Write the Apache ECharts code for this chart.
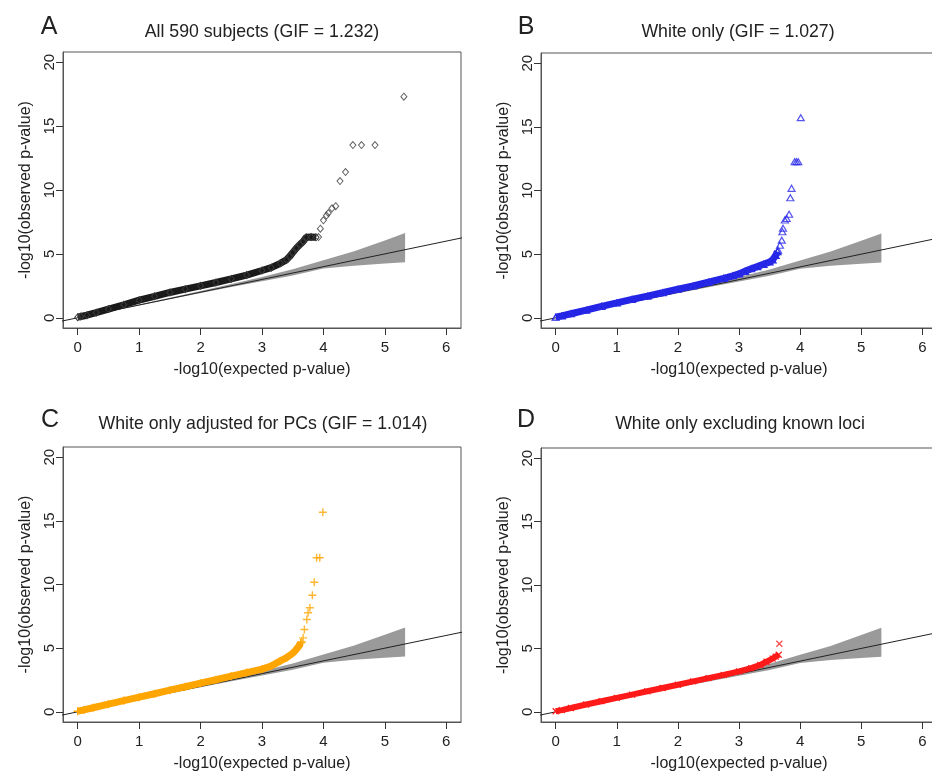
<!DOCTYPE html>
<html>
<head>
<meta charset="utf-8">
<script src="https://cdn.jsdelivr.net/npm/echarts@6/dist/echarts.min.js"></script>
<style>
html,body{margin:0;padding:0;background:#fff;}
#c{width:932px;height:776px;}
</style>
</head>
<body>
<div id="c"></div>
<script>
// ---------------- data ----------------
const X_TICKS = [0, 1, 2, 3, 4, 5, 6];
const Y_TICKS = [0, 5, 10, 15, 20];
const PANEL_LETTERS = ['A', 'B', 'C', 'D'];
const PANEL_TITLES = [
  'All 590 subjects (GIF = 1.232)',
  'White only (GIF = 1.027)',
  'White only adjusted for PCs (GIF = 1.014)',
  'White only excluding known loci'
];
const X_NAME = '-log10(expected p-value)';
const Y_NAME = '-log10(observed p-value)';

// 95% confidence band of the expected order statistics
const BAND_X    = [0, 1, 2, 2.5, 3.0, 3.5, 4.0, 4.5, 5.0, 5.33];
const BAND_LOW  = [0, 0.97, 1.93, 2.4, 2.85, 3.3, 3.85, 4.08, 4.25, 4.35];
const BAND_HIGH = [0, 1.03, 2.1, 2.65, 3.2, 3.8, 4.5, 5.2, 6.05, 6.63];

// identity line y = x (end points)
const REF_X = [-0.3, 6.3];

// Panel A: all 590 subjects
const A_DENSE_X = [0.0, 0.05, 0.15, 0.3, 0.5, 0.75, 1.0, 1.25, 1.5, 1.75, 2.0, 2.25, 2.5, 2.75, 3.0, 3.15, 3.3, 3.4, 3.45, 3.5, 3.56, 3.62, 3.67, 3.72, 3.8, 3.88];
const A_DENSE_Y = [0.05, 0.1, 0.2, 0.4, 0.68, 1.02, 1.38, 1.68, 1.98, 2.24, 2.5, 2.76, 3.04, 3.34, 3.7, 3.92, 4.26, 4.55, 4.8, 5.1, 5.45, 5.75, 5.97, 6.3, 6.32, 6.3];
const A_TAIL_X = [3.92, 3.95, 4.0, 4.05, 4.08, 4.14, 4.2, 4.27, 4.36, 4.48, 4.62, 4.84, 5.31];
const A_TAIL_Y = [6.32, 6.97, 7.63, 8.0, 8.2, 8.57, 8.73, 10.7, 11.4, 13.52, 13.52, 13.52, 17.3];

// Panel B: white only
const B_DENSE_X = [0.0, 0.1, 0.25, 0.5, 0.75, 1.0, 1.25, 1.5, 1.75, 2.0, 2.25, 2.5, 2.75, 2.9, 3.0, 3.1, 3.2, 3.3, 3.4, 3.5, 3.55, 3.6, 3.63];
const B_DENSE_Y = [0.05, 0.15, 0.32, 0.6, 0.9, 1.17, 1.45, 1.7, 1.97, 2.25, 2.5, 2.8, 3.1, 3.3, 3.45, 3.65, 3.85, 4.02, 4.2, 4.38, 4.55, 4.9, 5.2];
const B_TAIL_X = [3.64, 3.67, 3.70, 3.71, 3.72, 3.75, 3.78, 3.82, 3.84, 3.86, 3.91, 3.94, 3.97, 4.01];
const B_TAIL_Y = [5.32, 5.7, 6.1, 6.76, 7.03, 7.68, 7.8, 8.13, 9.43, 10.17, 12.26, 12.26, 12.26, 15.72];

// Panel C: white only adjusted for PCs
const C_DENSE_X = [0.0, 0.1, 0.25, 0.5, 0.75, 1.0, 1.25, 1.5, 1.75, 2.0, 2.25, 2.5, 2.75, 3.0, 3.15, 3.3, 3.4, 3.5, 3.55, 3.6, 3.63];
const C_DENSE_Y = [0.05, 0.15, 0.32, 0.6, 0.88, 1.15, 1.42, 1.7, 1.97, 2.25, 2.52, 2.8, 3.08, 3.35, 3.6, 4.0, 4.25, 4.6, 4.85, 5.15, 5.4];
const C_TAIL_X = [3.65, 3.67, 3.69, 3.73, 3.75, 3.78, 3.82, 3.85, 3.89, 3.94, 3.99];
const C_TAIL_Y = [5.5, 5.81, 6.47, 7.25, 7.78, 8.17, 9.16, 10.18, 12.1, 12.1, 15.68];

// Panel D: white only excluding known loci
const D_DENSE_X = [0.0, 0.1, 0.25, 0.5, 0.75, 1.0, 1.25, 1.5, 1.75, 2.0, 2.25, 2.5, 2.75, 3.0, 3.2, 3.35, 3.45, 3.55, 3.6, 3.65];
const D_DENSE_Y = [0.05, 0.14, 0.3, 0.58, 0.84, 1.1, 1.36, 1.62, 1.88, 2.14, 2.4, 2.66, 2.92, 3.19, 3.45, 3.7, 3.95, 4.2, 4.35, 4.5];
const D_TAIL_X = [3.66];
const D_TAIL_Y = [5.37];

// ---------------- styling / layout ----------------
const FONT = 'Liberation Sans, Arial, Helvetica, sans-serif';
const GRIDS = [
  {left: 63,  top: 52,  width: 398, height: 276},
  {left: 541, top: 53,  width: 396, height: 275},
  {left: 63,  top: 447, width: 398, height: 275},
  {left: 541, top: 448, width: 396, height: 274}
];
const TITLE_POS  = [[262, 23], [738, 23], [263, 415], [740, 415]];
const LETTER_POS = [[49, 15], [526, 15], [50, 408], [526, 408]];

const PANELS = [
  {dx: A_DENSE_X, dy: A_DENSE_Y, tx: A_TAIL_X, ty: A_TAIL_Y, color: '#3a3a3a', lineColor: '#1a1a1a',
   symbol: 'diamond', size: [6, 7], bw: 1, lw: 7},
  {dx: B_DENSE_X, dy: B_DENSE_Y, tx: B_TAIL_X, ty: B_TAIL_Y, color: '#2a2ae8', lineColor: '#2424e6',
   symbol: 'triangle', size: [7, 6], bw: 1.2, lw: 7},
  {dx: C_DENSE_X, dy: C_DENSE_Y, tx: C_TAIL_X, ty: C_TAIL_Y, color: '#ffa500', lineColor: '#ffa500',
   symbol: 'path://M0,5L10,5M5,0L5,10', size: 8, bw: 1.4, lw: 7},
  {dx: D_DENSE_X, dy: D_DENSE_Y, tx: D_TAIL_X, ty: D_TAIL_Y, color: '#ff1a1a', lineColor: '#ff1a1a',
   symbol: 'path://M0,0L10,10M10,0L0,10', size: 6, bw: 1.2, lw: 6}
];

const zip = (xs, ys) => xs.map((x, i) => [x, ys[i]]);

const option = {
  animation: false,
  backgroundColor: '#fff',
  title: [],
  grid: [],
  xAxis: [],
  yAxis: [],
  series: []
};

const AXIS_LINE = {show: true, onZero: false, lineStyle: {color: '#555', width: 1}};
const AXIS_TICK = {show: true, inside: false, length: 7, lineStyle: {color: '#333', width: 1}};

PANELS.forEach((p, i) => {
  option.title.push({
    text: PANEL_TITLES[i], left: TITLE_POS[i][0], top: TITLE_POS[i][1], textAlign: 'center', padding: 0,
    textStyle: {fontFamily: FONT, fontSize: 17.7, fontWeight: 'normal', color: '#222'}
  });
  option.title.push({
    text: PANEL_LETTERS[i], left: LETTER_POS[i][0], top: LETTER_POS[i][1], textAlign: 'center', padding: 0,
    textStyle: {fontFamily: 'Liberation Sans Narrow, Liberation Sans, sans-serif', fontSize: 25, fontWeight: 'normal', color: '#222'}
  });
  option.grid.push(Object.assign({show: true, borderColor: '#555', borderWidth: 1, backgroundColor: 'transparent',
    containLabel: false, outerBoundsMode: 'none'}, GRIDS[i]));
  option.xAxis.push({
    type: 'value', gridIndex: i, min: -0.24, max: 6.24,
    name: X_NAME, nameLocation: 'middle', nameGap: 34,
    nameTextStyle: {fontFamily: FONT, fontSize: 16, color: '#222'},
    axisLine: AXIS_LINE,
    splitLine: {show: false},
    axisTick: Object.assign({customValues: X_TICKS}, AXIS_TICK),
    axisLabel: {customValues: X_TICKS, margin: 12, fontFamily: FONT, fontSize: 15, color: '#222'}
  });
  option.yAxis.push({
    type: 'value', gridIndex: i, min: -0.8, max: 20.8,
    name: Y_NAME, nameLocation: 'middle', nameGap: 29, nameRotate: 90,
    nameTextStyle: {fontFamily: FONT, fontSize: 16, color: '#222'},
    axisLine: AXIS_LINE,
    splitLine: {show: false},
    axisTick: Object.assign({customValues: Y_TICKS}, AXIS_TICK),
    axisLabel: {customValues: Y_TICKS, rotate: 90, margin: 6, fontFamily: FONT, fontSize: 15, color: '#222'}
  });
  // confidence band
  option.series.push({
    type: 'custom', xAxisIndex: i, yAxisIndex: i, clip: true, silent: true, z: 1,
    data: zip(BAND_X, BAND_LOW),
    renderItem: function (params, api) {
      if (params.dataIndex !== 0) return null;
      const pts = [];
      for (let k = 0; k < BAND_X.length; k++) pts.push(api.coord([BAND_X[k], BAND_HIGH[k]]));
      for (let k = BAND_X.length - 1; k >= 0; k--) pts.push(api.coord([BAND_X[k], BAND_LOW[k]]));
      return {type: 'polygon', shape: {points: pts}, style: {fill: '#9a9a9a', stroke: null}};
    }
  });
  // identity line
  option.series.push({
    type: 'line', xAxisIndex: i, yAxisIndex: i, clip: true, silent: true, z: 2,
    data: zip(REF_X, REF_X), showSymbol: false,
    lineStyle: {color: '#222', width: 1}
  });
  // dense part
  option.series.push({
    type: 'line', xAxisIndex: i, yAxisIndex: i, clip: true, z: 3,
    data: zip(p.dx, p.dy),
    symbol: p.symbol, symbolSize: p.size, showSymbol: true,
    lineStyle: {color: p.lineColor, width: p.lw},
    itemStyle: {color: 'rgba(255,255,255,0)', borderColor: p.color, borderWidth: p.bw}
  });
  // tail points
  option.series.push({
    type: 'scatter', xAxisIndex: i, yAxisIndex: i, clip: true, z: 4,
    data: zip(p.tx, p.ty),
    symbol: p.symbol, symbolSize: p.size,
    itemStyle: {color: 'rgba(255,255,255,0)', borderColor: p.color, borderWidth: p.bw}
  });
});

const chart = echarts.init(document.getElementById('c'), null, {renderer: 'canvas'});
chart.setOption(option);
</script>
</body>
</html>
